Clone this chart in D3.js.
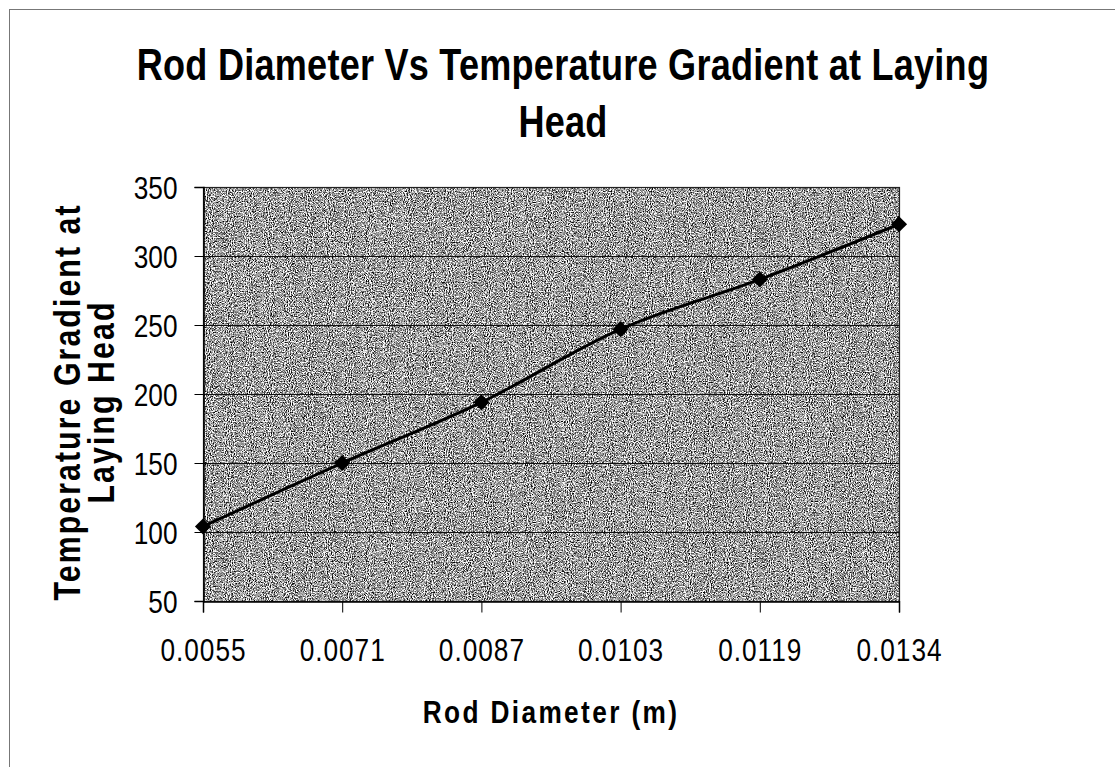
<!DOCTYPE html>
<html>
<head>
<meta charset="utf-8">
<script src="https://cdn.jsdelivr.net/npm/d3@7"></script>
<style>
  html, body { margin: 0; padding: 0; background: #fff; }
  svg { display: block; }
  text { font-family: "Liberation Sans", Arial, sans-serif; }
</style>
</head>
<body>
<div id="chart"></div>
<script>
// ---------------------------------------------------------------------------------------------------------
//                                                 DATA
// ---------------------------------------------------------------------------------------------------------
const diameters = ["0.0055", "0.0071", "0.0087", "0.0103", "0.0119", "0.0134"];
const gradients = [104, 150, 194, 247, 283, 323];
const yTicks = [50, 100, 150, 200, 250, 300, 350];
const titleLines = ["Rod Diameter Vs Temperature Gradient at Laying", "Head"];
const yTitleLines = ["Temperature Gradient at", "Laying Head"];
const xTitle = "Rod Diameter (m)";

// ---------------------------------------------------------------------------------------------------------
//                                                 PLOTTING
// ---------------------------------------------------------------------------------------------------------
const width = 1115;
const height = 767;

//plot area box
const plot = { left: 203, right: 899, top: 187, bottom: 601 };

//no arial narrow installed, so squeeze liberation sans sideways instead
const NARROW = 0.82;
function squeeze(sel) {
  sel.each(function () {
    const t = d3.select(this);
    const x = +t.attr("x") || 0;
    t.attr("x", x / NARROW).attr("transform", `scale(${NARROW},1)`);
  });
}

const svg = d3
  .select("#chart")
  .append("svg")
  .attr("width", width)
  .attr("height", height);

//grainy gray fill like the scanned original
const defs = svg.append("defs");
const grain = defs
  .append("filter")
  .attr("id", "grain")
  .attr("x", 0)
  .attr("y", 0)
  .attr("width", 1)
  .attr("height", 1)
  .attr("color-interpolation-filters", "sRGB");
grain
  .append("feTurbulence")
  .attr("type", "fractalNoise")
  .attr("baseFrequency", "0.95 0.8")
  .attr("numOctaves", 2)
  .attr("seed", 7)
  .attr("result", "noise");
grain
  .append("feColorMatrix")
  .attr("in", "noise")
  .attr("type", "saturate")
  .attr("values", 0)
  .attr("result", "gray");
const ct = grain.append("feComponentTransfer").attr("in", "gray");
["R", "G", "B"].forEach((c) =>
  ct.append(`feFunc${c}`).attr("type", "linear").attr("slope", 3.4).attr("intercept", -1.08)
);
ct.append("feFuncA").attr("type", "table").attr("tableValues", "1 1");

//outer chart border (runs off the page right and bottom)
svg
  .append("rect")
  .attr("x", 9.5)
  .attr("y", 9.5)
  .attr("width", width + 20)
  .attr("height", height + 20)
  .attr("fill", "none")
  .attr("stroke", "#777")
  .attr("stroke-width", 1);

const xScale = d3
  .scalePoint()
  .domain(diameters)
  .range([plot.left, plot.right])
  .padding(0);

const yScale = d3
  .scaleLinear()
  .domain([50, 350])
  .range([plot.bottom, plot.top]);

//plot background
svg
  .append("rect")
  .attr("x", plot.left)
  .attr("y", plot.top)
  .attr("width", plot.right - plot.left)
  .attr("height", plot.bottom - plot.top)
  .attr("fill", "#8c8c8c")
  .attr("filter", "url(#grain)");

//gridlines
svg
  .append("g")
  .selectAll("line")
  .data(yTicks.slice(1, -1))
  .join("line")
  .attr("x1", plot.left)
  .attr("x2", plot.right)
  .attr("y1", (d) => yScale(d) + 0.5)
  .attr("y2", (d) => yScale(d) + 0.5)
  .attr("stroke", "#111")
  .attr("stroke-width", 1);

//plot frame
svg
  .append("rect")
  .attr("x", plot.left + 0.5)
  .attr("y", plot.top + 0.5)
  .attr("width", plot.right - plot.left)
  .attr("height", plot.bottom - plot.top)
  .attr("fill", "none")
  .attr("stroke", "#222")
  .attr("stroke-width", 1.2);

//y axis
const yAxis = svg
  .append("g")
  .attr("transform", `translate(${plot.left + 0.5},0)`)
  .call(d3.axisLeft(yScale).tickValues(yTicks).tickSize(9).tickPadding(17))
  .call((g) => g.select(".domain").attr("stroke", "#000").attr("stroke-width", 1.5));
yAxis.selectAll(".tick line").attr("stroke", "#000");
yAxis
  .selectAll(".tick text")
  .attr("font-family", "Liberation Sans, Arial, sans-serif")
  .attr("font-size", 32)
  .attr("fill", "#000")
  .attr("dy", "0.36em")
  .call(squeeze);

//x axis
const xAxis = svg
  .append("g")
  .attr("transform", `translate(0,${plot.bottom + 0.5})`)
  .call(d3.axisBottom(xScale).tickSize(11).tickPadding(26))
  .call((g) => g.select(".domain").attr("stroke", "#000").attr("stroke-width", 1.5));
xAxis.selectAll(".tick line").attr("stroke", "#000");
xAxis
  .selectAll(".tick text")
  .attr("font-family", "Liberation Sans, Arial, sans-serif")
  .attr("font-size", 32)
  .attr("letter-spacing", 1.2)
  .attr("fill", "#000")
  .attr("dy", "0.71em")
  .call(squeeze);

//series line, smoothed like the excel original
const points = diameters.map((d, i) => ({ x: d, y: gradients[i] }));
const line = d3
  .line()
  .x((d) => xScale(d.x))
  .y((d) => yScale(d.y))
  .curve(d3.curveCatmullRom.alpha(0.5));

svg
  .append("path")
  .datum(points)
  .attr("d", line)
  .attr("fill", "none")
  .attr("stroke", "#000")
  .attr("stroke-width", 3);

svg
  .append("g")
  .selectAll("path")
  .data(points)
  .join("path")
  .attr("d", d3.symbol().type(d3.symbolSquare).size(130))
  .attr("transform", (d) => `translate(${xScale(d.x)},${yScale(d.y)}) rotate(45)`)
  .attr("fill", "#000");

//chart title
svg
  .append("g")
  .selectAll("text")
  .data(titleLines)
  .join("text")
  .attr("x", 563)
  .attr("y", (d, i) => 80 + i * 57)
  .attr("text-anchor", "middle")
  .attr("font-size", 44)
  .attr("font-weight", "bold")
  .attr("letter-spacing", 0.3)
  .text((d) => d)
  .call(squeeze);

//y axis title
svg
  .append("g")
  .attr("transform", "translate(0,402) rotate(-90)")
  .selectAll("text")
  .data(yTitleLines)
  .join("text")
  .attr("x", 0)
  .attr("y", (d, i) => 80 + i * 34)
  .attr("text-anchor", "middle")
  .attr("font-size", 37)
  .attr("font-weight", "bold")
  .attr("letter-spacing", 2.5)
  .text((d) => d)
  .call(squeeze);

//x axis title
svg
  .append("text")
  .attr("x", 551)
  .attr("y", 723)
  .attr("text-anchor", "middle")
  .attr("font-size", 32)
  .attr("font-weight", "bold")
  .attr("letter-spacing", 2.9)
  .text(xTitle)
  .call(squeeze);
</script>
</body>
</html>
